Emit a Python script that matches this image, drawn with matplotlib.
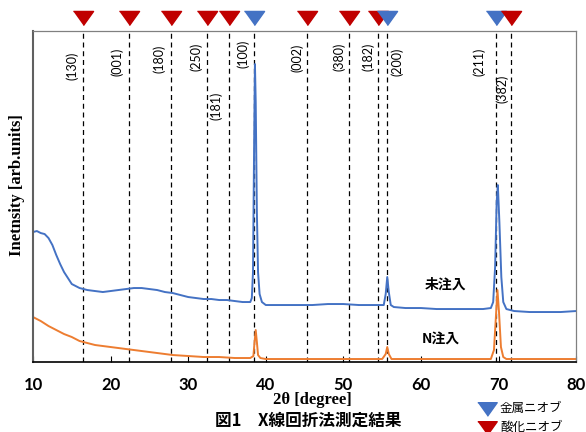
import matplotlib
matplotlib.use("Agg")
import matplotlib.pyplot as plt
import matplotlib.transforms as mtransforms

plt.rcParams['font.family'] = ['Lato', 'Noto Sans CJK JP', 'DejaVu Sans']

# ---- data ----
blue_x = [10, 10.5, 11, 11.5, 12, 12.5, 13, 13.5, 14, 14.5, 15, 16, 17, 18, 19, 20,
          21, 22, 23, 24, 25, 26, 27, 28, 29, 30, 31, 32, 33, 34, 35, 36, 37, 38,
          38.2, 38.35, 38.5, 38.6, 38.7, 38.85, 39.0, 39.2, 39.5, 40, 42, 44, 46,
          48, 50, 52, 54, 55.2, 55.45, 55.65, 55.85, 56.1, 56.5, 58, 60, 62, 64,
          66, 68, 69.0, 69.3, 69.55, 69.75, 69.9, 70.1, 70.35, 70.6, 71, 72, 74,
          76, 78, 80]
blue_y = [130, 131, 129, 128, 124, 117, 107, 98, 90, 84, 78, 74, 72, 71, 70, 71,
          72, 73, 74, 74, 73, 72, 70, 69, 67, 65, 64, 63, 63, 62, 62, 61, 60, 60,
          64, 90, 220, 298, 260, 150, 90, 68, 60, 57, 57, 57, 57,
          58, 58, 57, 57, 57, 68, 85, 70, 57, 55, 54, 54, 53, 53,
          53, 53, 54, 60, 95, 160, 177, 140, 85, 60, 53, 51, 50,
          50, 50, 51]

orange_x = [10, 11, 12, 13, 14, 15, 16, 17, 18, 20, 22, 24, 26, 28, 30, 32, 34, 36,
            38, 38.4, 38.55, 38.7, 38.85, 39.0, 39.3, 40, 45, 50, 55, 55.45, 55.65,
            55.85, 56.2, 58, 62, 66, 69.0, 69.4, 69.65, 69.85, 70.05, 70.3, 70.6,
            71, 74, 80]
orange_y = [45, 41, 36, 32, 28, 25, 21, 19, 17, 15, 13, 11, 9, 7, 6, 5, 5, 4,
            4, 6, 20, 32, 20, 7, 4, 3, 3, 3, 3, 8, 15,
            8, 3, 3, 3, 3, 3, 12, 45, 72, 50, 15, 5,
            3, 3, 3]

hkl = ['(130)', '(001)', '(180)', '(250)', '(181)', '(100)', '(002)', '(380)',
       '(182)', '(200)', '(211)', '(382)']
peak_pos = [16.45, 22.4, 27.8, 32.4, 35.2, 38.5, 45.3, 50.7, 54.5, 55.6, 69.6, 71.6]
phase = ['oxide', 'oxide', 'oxide', 'oxide', 'oxide', 'metal', 'oxide', 'oxide',
         'oxide', 'metal', 'metal', 'oxide']

# label placement (degrees offset from line, axes fraction height)
label_dx = [-1.42, -1.55, -1.55, -1.42, -1.55, -1.42, -1.29, -1.29, -1.29, 1.29, -2.06, -1.16]
label_y = [0.894, 0.906, 0.915, 0.921, 0.773, 0.930, 0.918, 0.921, 0.921, 0.906, 0.906, 0.825]

BLUE = '#4472C4'
ORANGE = '#ED7D31'
RED = '#C00000'
tri = [(-1, 0.7), (1, 0.7), (0, -0.7)]

fig = plt.figure(figsize=(5.86, 4.32), dpi=100)
ax = fig.add_axes([0.0563, 0.162, 0.927, 0.766])

ax.plot(blue_x, blue_y, color=BLUE, lw=1.4)
ax.plot(orange_x, orange_y, color=ORANGE, lw=1.4)

trans = mtransforms.blended_transform_factory(ax.transData, ax.transAxes)
for name, x, ph, dx, ly in zip(hkl, peak_pos, phase, label_dx, label_y):
    ax.axvline(x, color='black', ls=(0, (4, 3)), lw=0.9, zorder=1)
    ax.text(x + dx, ly, name, rotation=90, ha='center', va='center',
            fontsize=9, transform=trans)
    c = BLUE if ph == 'metal' else RED
    ax.plot([x], [1.039], marker=tri, markersize=14.5, color=c, mec=c,
            transform=trans, clip_on=False, zorder=5)

ax.text(63.1, 77, '未注入', fontsize=10, fontweight='bold', ha='center', va='center',
        family=['Noto Sans CJK JP'])
ax.text(62.6, 22, 'N注入', fontsize=10, fontweight='bold', ha='center', va='center',
        family=['Noto Sans CJK JP'])

ax.set_xlim(10, 80)
ax.set_ylim(0, 331)
ax.set_yticks([])
ax.set_xticks([10, 20, 30, 40, 50, 60, 70, 80])
ax.tick_params(axis='x', direction='in', length=4, pad=11, labelsize=12)
for lab in ax.get_xticklabels():
    lab.set_fontweight('bold')
for s in ['top', 'right']:
    ax.spines[s].set_color('#808080')
    ax.spines[s].set_linewidth(0.9)
ax.spines['left'].set_color('#606060')
ax.spines['left'].set_linewidth(1.5)
ax.spines['bottom'].set_color('black')
ax.spines['bottom'].set_linewidth(1.2)

fig.text(17 / 586, 1 - 185 / 432, 'Inetnsity [arb.units]', rotation=90,
         ha='center', va='center', fontsize=12, fontweight='bold',
         family=['Liberation Serif'])
fig.text(312 / 586, 1 - 400 / 432, '2θ [degree]', ha='center', va='center',
         fontsize=12, fontweight='bold', family=['Liberation Serif'])
fig.text(308 / 586, 1 - 421 / 432, '図1　X線回折法測定結果', ha='center', va='center',
         fontsize=12, fontweight='bold', family=['Noto Sans CJK JP'])

# legend
fig.lines.append(plt.Line2D([487 / 586], [1 - 409 / 432], marker=tri, markersize=14,
                            color=BLUE, transform=fig.transFigure))
fig.lines.append(plt.Line2D([487 / 586], [1 - 428 / 432], marker=tri, markersize=14,
                            color=RED, transform=fig.transFigure))
fig.text(500 / 586, 1 - 408 / 432, '金属ニオブ', ha='left', va='center', fontsize=9,
         family=['Noto Sans CJK JP'])
fig.text(500 / 586, 1 - 427 / 432, '酸化ニオブ', ha='left', va='center', fontsize=9,
         family=['Noto Sans CJK JP'])

fig.savefig('out.png', dpi=100)
